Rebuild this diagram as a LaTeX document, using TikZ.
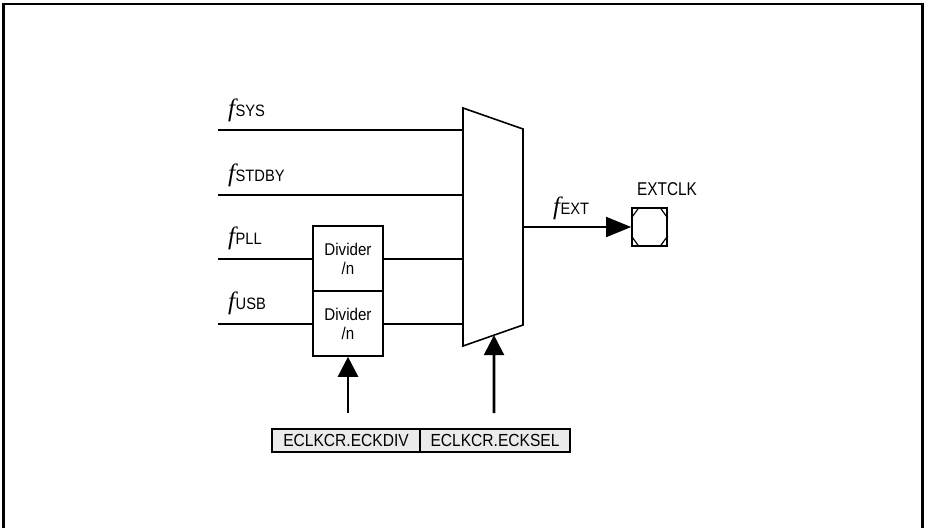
\documentclass[tikz,border=0pt]{standalone}
\usepackage{fontspec}
\usepackage{graphicx}
\setmainfont{Liberation Sans}
\newfontfamily\serf{Liberation Serif}
\usetikzlibrary{arrows.meta,calc}
\newcommand{\tx}[1]{\scalebox{0.89}[1]{#1}}
\newcommand{\fsig}[1]{{\fontsize{25}{25}\serf\itshape f}\kern0.5pt{\fontsize{16.5}{16.5}\selectfont\tx{#1}}}
\begin{document}
\begin{tikzpicture}[x=1pt,y=-1pt,
  wire/.style={line width=1.6pt},
  divbox/.style={draw,line width=1.6pt,minimum width=70pt,minimum height=65pt,inner sep=0pt,align=center,font=\fontsize{17}{19}\selectfont},
  regbox/.style={draw,line width=1.3pt,fill=black!8,minimum height=23pt,inner sep=0pt,font=\fontsize{17.5}{17.5}\selectfont},
  ctrl/.style={line width=2.6pt,-{Triangle[length=20pt,width=20pt]}},
  lbl/.style={anchor=base west,inner sep=0pt}]
\useasboundingbox (0,0) rectangle (925,528);
\draw[line width=2.2pt] (3.5,528) -- (3.5,4) -- (922.5,4) -- (922.5,528);
% mux
\coordinate (mtl) at (463,108);
\coordinate (mtr) at (523,129);
\coordinate (mbr) at (523,325);
\coordinate (mbl) at (463,346);
\draw[wire,fill=white] (mtl) -- (mtr) -- (mbr) -- (mbl) -- cycle;
% dividers
\node[divbox] (d1) at (348,258.5) {\tx{Divider}\\\tx{/n}};
\node[divbox] (d2) at (348,323.5) {\tx{Divider}\\\tx{/n}};
% inputs
\coordinate (iSYS) at (218,130);
\coordinate (iSTD) at (218,195);
\coordinate (iPLL) at (218,259);
\coordinate (iUSB) at (218,324);
\draw[wire] (iSYS) -- (iSYS -| mtl);
\draw[wire] (iSTD) -- (iSTD -| mtl);
\draw[wire] (iPLL) -- (iPLL -| d1.west);
\draw[wire] (iPLL -| d1.east) -- (iPLL -| mtl);
\draw[wire] (iUSB) -- (iUSB -| d2.west);
\draw[wire] (iUSB -| d2.east) -- (iUSB -| mtl);
\node[lbl] (lSYS) at (228,116) {\fsig{SYS}};
\node[lbl] (lSTD) at (228,181) {\fsig{STDBY}};
\node[lbl] (lPLL) at (228,244) {\fsig{PLL}};
\node[lbl] (lUSB) at (228,309) {\fsig{USB}};
% output
\coordinate (mout) at (523,227);
\node[draw,line width=1.6pt,minimum width=35pt,minimum height=38pt,inner sep=0pt] (pad) at (649.5,227) {};
\draw[line width=1.2pt] ($(pad.north west)+(0,11)$) -- ($(pad.north west)+(8,0)$)
  ($(pad.north east)+(0,11)$) -- ($(pad.north east)+(-8,0)$)
  ($(pad.south west)+(0,-11)$) -- ($(pad.south west)+(8,0)$)
  ($(pad.south east)+(0,-11)$) -- ($(pad.south east)+(-8,0)$);
\draw[wire,-{Triangle[length=25pt,width=20pt]}] (mout) -- (pad.west);
\node[lbl] (lEXT) at (553,214) {\fsig{EXT}};
\node[lbl,font=\fontsize{18.5}{18.5}\selectfont] (lpad) at (637,195) {\scalebox{0.83}[1]{EXTCLK}};
% registers
\node[regbox,minimum width=148pt] (rdiv) at (346,440.5) {\tx{ECLKCR.ECKDIV}};
\node[regbox,minimum width=150pt] (rsel) at (495,440.5) {\tx{ECLKCR.ECKSEL}};
\coordinate (adiv) at (348,413);
\coordinate (asel) at (494,413);
\draw[ctrl] (adiv) -- (d2.south);
\draw[ctrl] (asel) -- ($(mbl)!0.517!(mbr)$);
\end{tikzpicture}
\end{document}
